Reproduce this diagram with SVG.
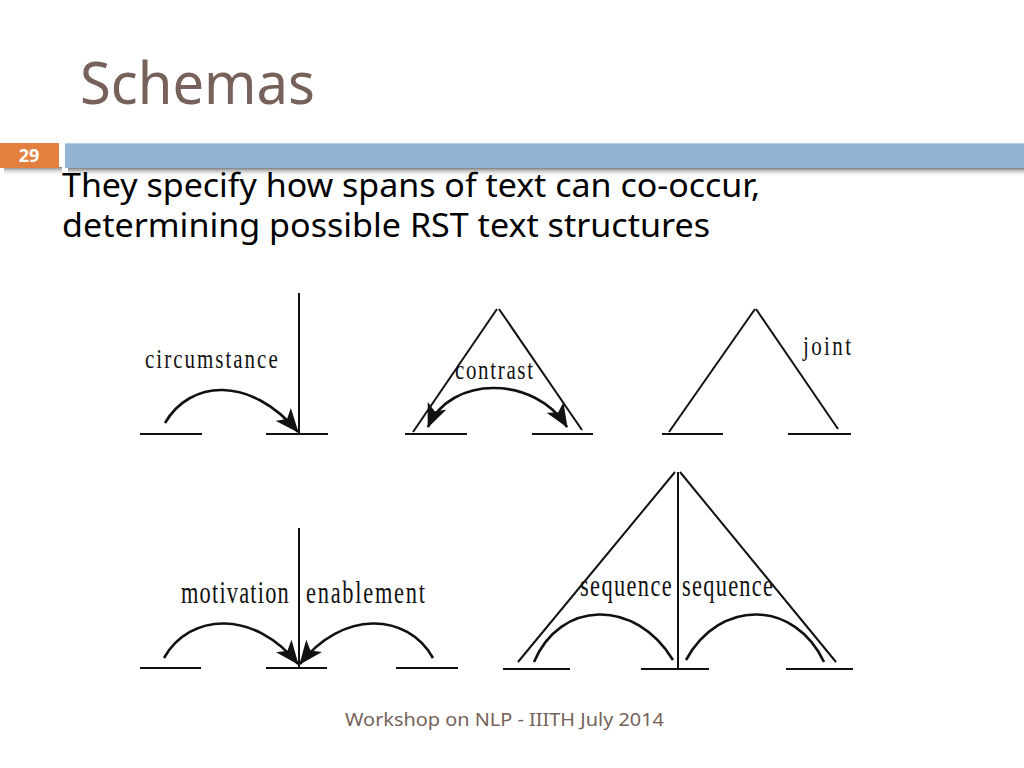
<svg xmlns="http://www.w3.org/2000/svg" width="1024" height="768" viewBox="0 0 1024 768">
<defs>
<linearGradient id="shadow" x1="0" y1="0" x2="0" y2="1">
<stop offset="0" stop-color="#6e6e6e" stop-opacity="0.9"/>
<stop offset="1" stop-color="#ffffff" stop-opacity="0"/>
</linearGradient>
<marker id="arr" markerUnits="userSpaceOnUse" viewBox="0 0 24 20" refX="23" refY="10" markerWidth="24" markerHeight="20" orient="auto-start-reverse">
<path d="M0,0 L24,10 L0,20 L6,10 z" fill="#111"/>
</marker>
<style>
.ln{stroke:#111;stroke-width:2;fill:none}
.arc{stroke:#111;stroke-width:2.6;fill:none}
.lbl{font-family:"Liberation Serif","Times New Roman",serif;fill:#111}
.body{font-family:"Noto Sans","Open Sans",sans-serif;fill:#000}
</style>
</defs>
<rect width="1024" height="768" fill="#fff"/>
<g id="header">
<text x="80" y="104" font-family="Noto Sans, Open Sans, sans-serif" font-size="58" fill="#76625A" textLength="235" lengthAdjust="spacingAndGlyphs">Schemas</text>
<rect x="4" y="167" width="58" height="9" fill="url(#shadow)"/>
<rect x="68" y="168" width="956" height="9" fill="url(#shadow)"/>
<rect x="0" y="143" width="59" height="25" fill="#E3803F"/>
<text x="29" y="162" text-anchor="middle" font-family="Noto Sans, Open Sans, sans-serif" font-weight="bold" font-size="18" fill="#fff">29</text>
<rect x="65" y="143" width="959" height="25" fill="#92B5D4"/>
<line x1="65" y1="143.5" x2="1024" y2="143.5" stroke="#b7cfe3" stroke-width="1"/>
</g>
<g id="intro">
<text class="body" x="62" y="197" font-size="32" textLength="698" lengthAdjust="spacingAndGlyphs">They specify how spans of text can co-occur,</text>
<text class="body" x="62" y="237" font-size="32" textLength="648" lengthAdjust="spacingAndGlyphs">determining possible RST text structures</text>
</g>
<g id="circumstance">
<line class="ln" x1="299" y1="293" x2="299" y2="434"/>
<line class="ln" x1="140" y1="434" x2="202" y2="434"/>
<line class="ln" x1="266" y1="434" x2="328" y2="434"/>
<text class="lbl" transform="translate(145,368) scale(0.75,1)" font-size="28" textLength="177" lengthAdjust="spacing">circumstance</text>
</g>
<g id="contrast">
<line class="ln" x1="497" y1="309" x2="413" y2="432"/>
<line class="ln" x1="499" y1="309" x2="582" y2="430"/>
<line class="ln" x1="405" y1="434" x2="467" y2="434"/>
<line class="ln" x1="532" y1="434" x2="593" y2="434"/>
<text class="lbl" transform="translate(455,379) scale(0.75,1)" font-size="28" textLength="104" lengthAdjust="spacing">contrast</text>
</g>
<g id="joint">
<line class="ln" x1="755" y1="309" x2="669" y2="432"/>
<line class="ln" x1="756" y1="309" x2="838" y2="429"/>
<line class="ln" x1="662" y1="434" x2="723" y2="434"/>
<line class="ln" x1="788" y1="434" x2="851" y2="434"/>
<text class="lbl" transform="translate(803,355) scale(0.75,1)" font-size="28" textLength="64" lengthAdjust="spacing">joint</text>
</g>
<g id="motivation-enablement">
<line class="ln" x1="299" y1="528" x2="299" y2="667"/>
<line class="ln" x1="140" y1="668" x2="201" y2="668"/>
<line class="ln" x1="266" y1="668" x2="327" y2="668"/>
<line class="ln" x1="396" y1="668" x2="458" y2="668"/>
<text class="lbl" transform="translate(181,603) scale(0.7,1)" font-size="32" textLength="154" lengthAdjust="spacing">motivation</text>
<text class="lbl" transform="translate(306,603) scale(0.7,1)" font-size="32" textLength="170" lengthAdjust="spacing">enablement</text>
</g>
<g id="sequence">
<line class="ln" x1="678" y1="472" x2="678" y2="668"/>
<line class="ln" x1="675" y1="472" x2="518" y2="662"/>
<line class="ln" x1="680" y1="472" x2="836" y2="662"/>
<line class="ln" x1="503" y1="669" x2="570" y2="669"/>
<line class="ln" x1="641" y1="669" x2="709" y2="669"/>
<line class="ln" x1="786" y1="669" x2="853" y2="669"/>
<text class="lbl" transform="translate(580,596) scale(0.7,1)" font-size="32" textLength="131" lengthAdjust="spacing">sequence</text>
<text class="lbl" transform="translate(682,596) scale(0.7,1)" font-size="32" textLength="130" lengthAdjust="spacing">sequence</text>
</g>
<g id="connectors">
<path class="arc" d="M165,423 C190,380 250,375 298,432" marker-end="url(#arr)"/>
<path class="arc" d="M428,427 C450,375 535,375 567,427" marker-start="url(#arr)" marker-end="url(#arr)"/>
<path class="arc" d="M164,658 C190,612 255,610 298,664" marker-end="url(#arr)"/>
<path class="arc" d="M433,658 C407,612 342,610 300,664" marker-end="url(#arr)"/>
<path class="arc" d="M534,662 C560,600 635,598 673,660"/>
<path class="arc" d="M686,660 C720,598 795,600 824,662"/>
</g>
<g id="footer">
<text x="345" y="726" font-family="Noto Sans, Open Sans, sans-serif" font-size="18" fill="#76625A" textLength="319" lengthAdjust="spacingAndGlyphs">Workshop on NLP - IIITH July 2014</text>
</g>
</svg>
